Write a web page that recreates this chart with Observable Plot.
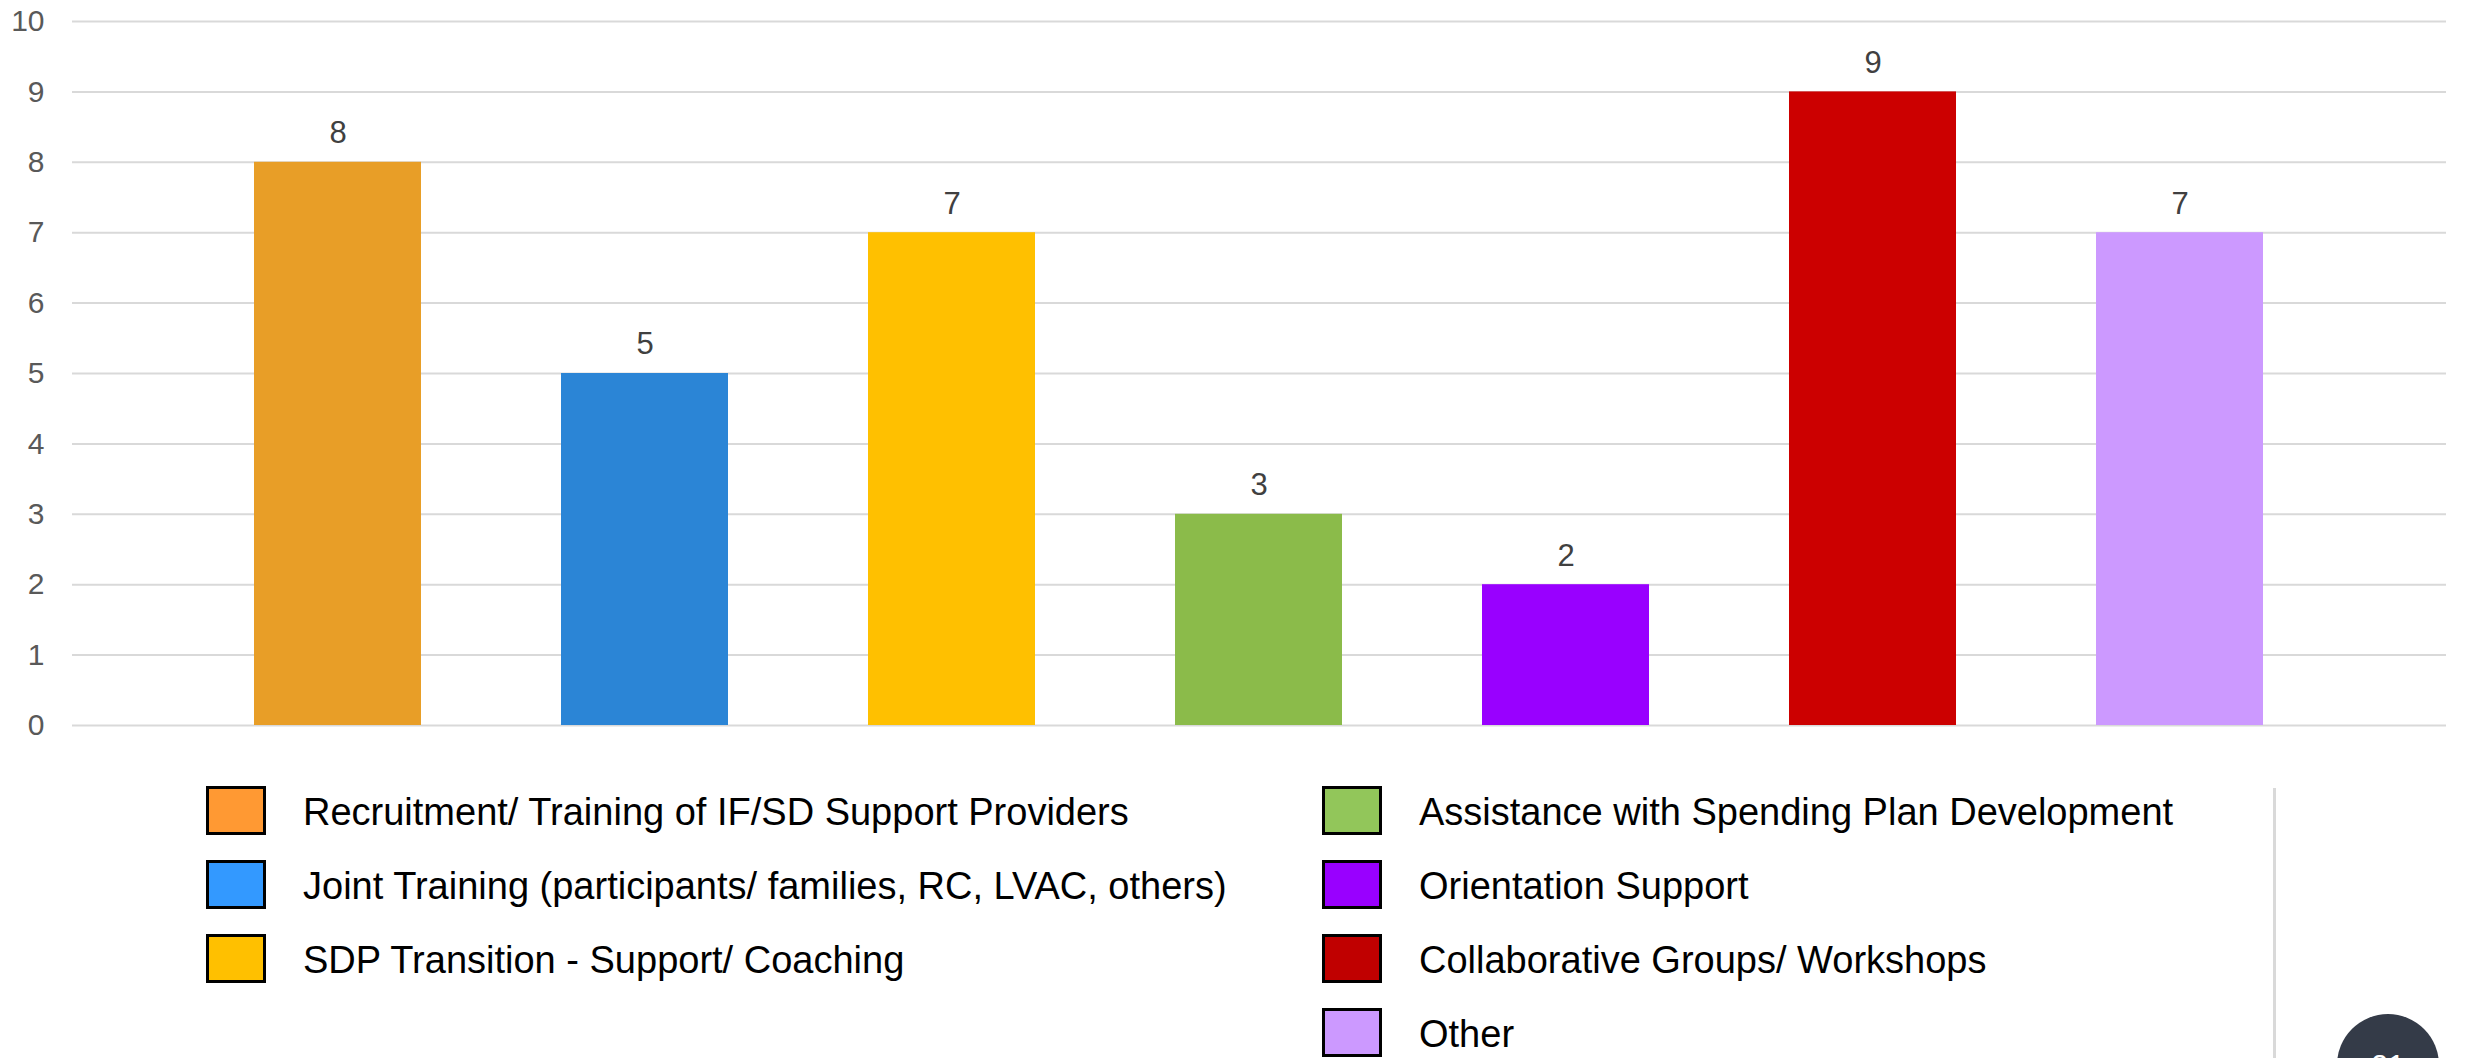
<!DOCTYPE html>
<html>
<head>
<meta charset="utf-8">
<script src="https://cdn.jsdelivr.net/npm/d3@7"></script>
<script src="https://cdn.jsdelivr.net/npm/@observablehq/plot@0.6"></script>
<style>
  html, body { margin: 0; padding: 0; background: #fff; }
  body { width: 2465px; height: 1058px; overflow: hidden; position: relative;
         font-family: Arial, "Liberation Sans", Helvetica, sans-serif; }
  #chart svg { display: block; }
  #legend { position: absolute; left: 206px; top: 786px; display: flex; gap: 0; }
  .col { display: flex; flex-direction: column; gap: 25px; }
  .col:first-child { width: 1116px; }
  .item { display: flex; align-items: center; height: 49px; }
  .sw { width: 54px; height: 43px; border: 3px solid #000; flex: none; }
  .lbl { margin-left: 37px; font-size: 38px; color: #000; white-space: nowrap; line-height: 1; padding-top: 3px; }
  #divider { position: absolute; left: 2273px; top: 788px; width: 3px; bottom: 0; background: #d9d9d9; }
  #badge { position: absolute; left: 2337px; top: 1014px; width: 102px; height: 102px; border-radius: 50%;
           background: #343b48; color: #fff; font-size: 30px; display: flex; align-items: center; justify-content: center; }
</style>
</head>
<body>
<div id="chart"></div>
<div id="legend"></div>
<div id="divider"></div>
<div id="badge">21</div>
<script>
const categories = [
  "Recruitment/ Training of IF/SD Support Providers",
  "Joint Training (participants/ families, RC, LVAC, others)",
  "SDP Transition - Support/ Coaching",
  "Assistance with Spending Plan Development",
  "Orientation Support",
  "Collaborative Groups/ Workshops",
  "Other"
];
const values = [8, 5, 7, 3, 2, 9, 7];
const barColors = ["#E89E27", "#2B85D6", "#FFC000", "#8BBB4A", "#9900FF", "#CC0000", "#CC99FF"];
const legendColors = ["#FF9933", "#3399FF", "#FFC000", "#92C65A", "#9900FF", "#C00000", "#CC99FF"];
const yTicks = [0, 1, 2, 3, 4, 5, 6, 7, 8, 9, 10];

const data = categories.map((c, i) => ({category: c, value: values[i]}));

const chart = Plot.plot({
  width: 2465,
  height: 760,
  marginLeft: 72,
  marginRight: 19,
  marginTop: 21,
  marginBottom: 35,
  style: {fontFamily: 'Arial, "Liberation Sans", sans-serif', background: "#fff"},
  x: {domain: categories, axis: null, paddingInner: 0.456, paddingOuter: 0.592},
  y: {domain: [0, 10]},
  color: {domain: categories, range: barColors},
  marks: [
    Plot.gridY(yTicks, {stroke: "#d9d9d9", strokeOpacity: 1, strokeWidth: 2}),
    Plot.axisY(yTicks, {tickSize: 0, tickPadding: 28, fontSize: 30, fill: "#595959", label: null, tickFormat: d => String(d)}),
    Plot.barY(data, {x: "category", y: "value", fill: "category"}),
    Plot.text(data, {x: "category", y: "value", text: d => String(d.value), dy: -29, fontSize: 31, fill: "#404040"})
  ]
});
document.getElementById("chart").appendChild(chart);

const legend = document.getElementById("legend");
const cols = [[0, 1, 2], [3, 4, 5, 6]];
cols.forEach(idx => {
  const col = document.createElement("div");
  col.className = "col";
  idx.forEach(i => {
    const item = document.createElement("div");
    item.className = "item";
    const sw = document.createElement("div");
    sw.className = "sw";
    sw.style.background = legendColors[i];
    const lbl = document.createElement("span");
    lbl.className = "lbl";
    lbl.textContent = categories[i];
    item.appendChild(sw);
    item.appendChild(lbl);
    col.appendChild(item);
  });
  legend.appendChild(col);
});
</script>
</body>
</html>
